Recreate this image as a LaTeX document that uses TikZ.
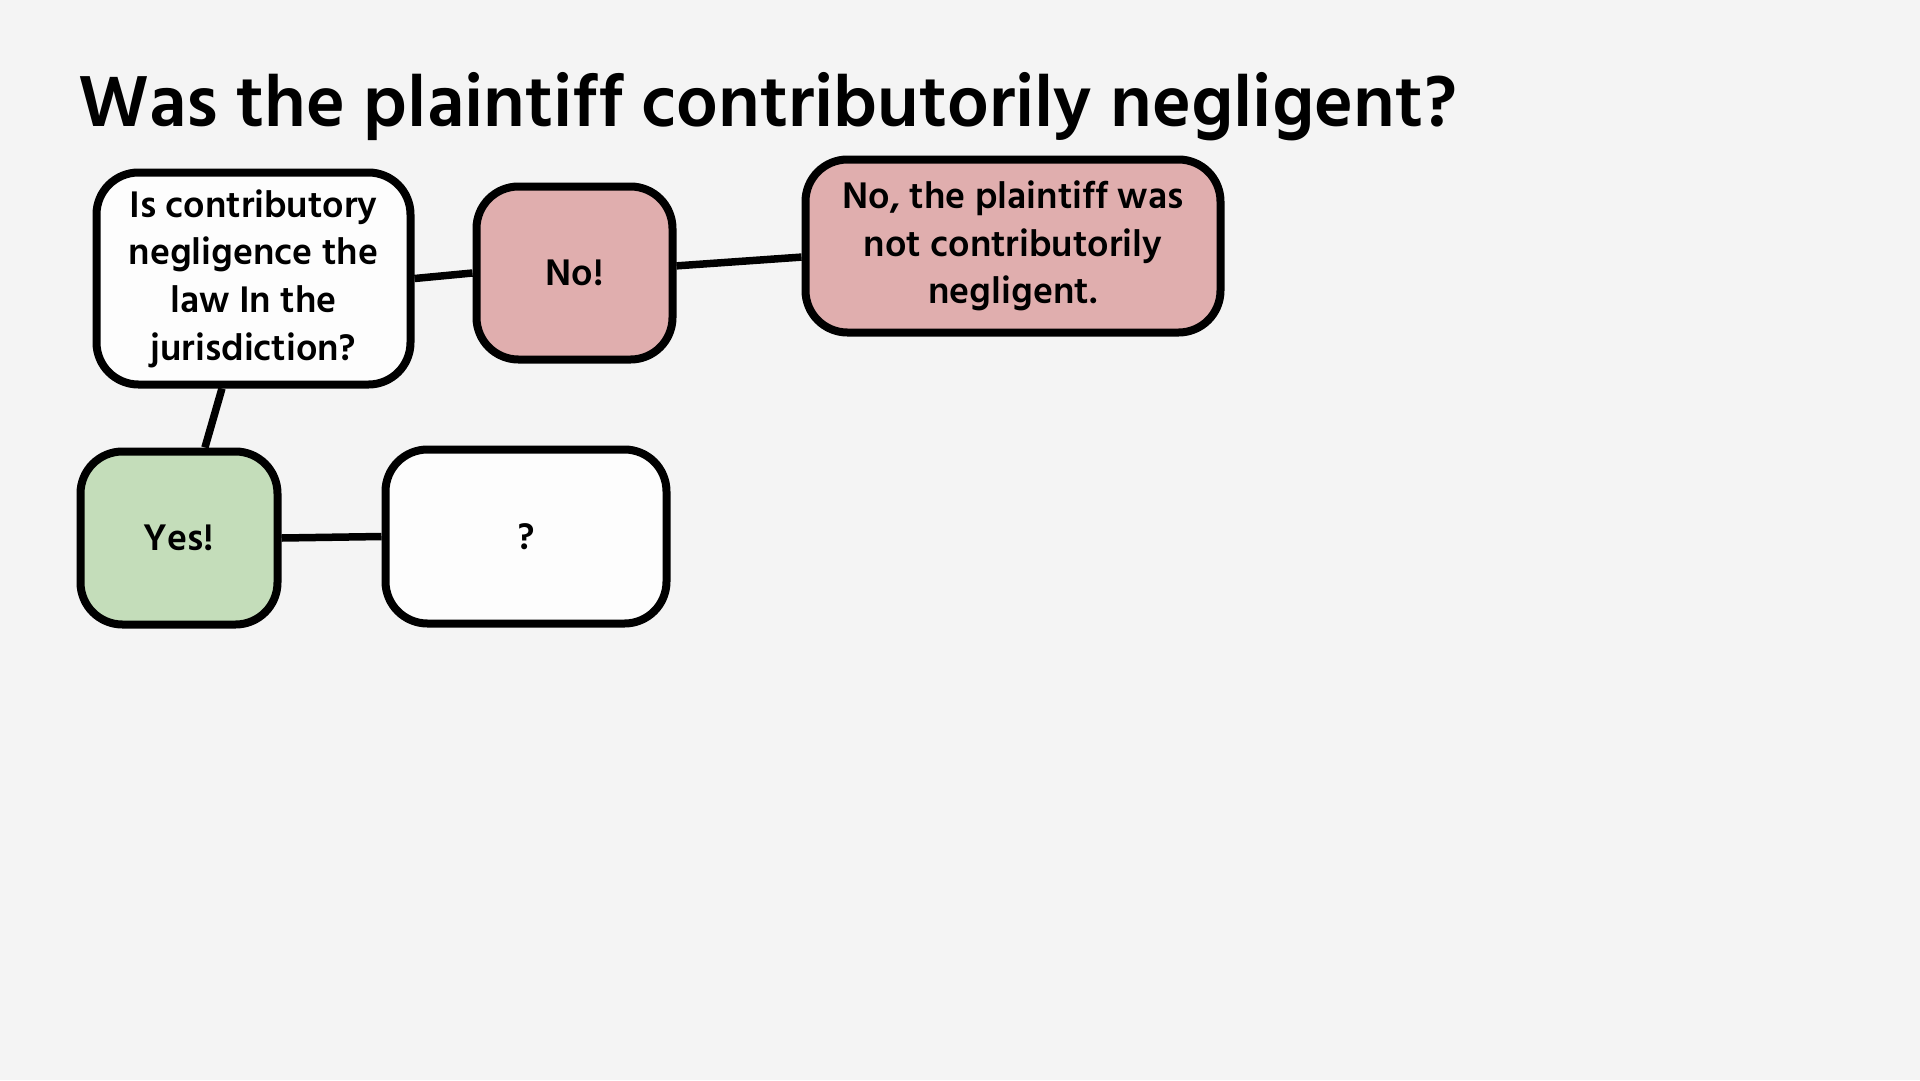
\documentclass[tikz,border=0pt]{standalone}
\usepackage{fontspec}
\setmainfont{Hind Madurai}
\definecolor{bgc}{HTML}{F4F4F4}
\definecolor{pinkc}{HTML}{E0AEAE}
\definecolor{greenc}{HTML}{C4DDBA}
\definecolor{whitec}{HTML}{FDFDFD}
\tikzset{
  box/.style={draw=black, line width=8pt, rounded corners=42pt, align=center,
    inner sep=0pt, fill=whitec, font=\fontsize{38}{47.7}\selectfont\bfseries},
  link/.style={line width=7.5pt, draw=black}
}
\begin{document}
\begin{tikzpicture}[x=1pt,y=-1pt]
\fill[bgc] (0,0) rectangle (1920,1080);
\useasboundingbox (0,0) rectangle (1920,1080);
\node[anchor=base west, inner sep=0pt, font=\fontsize{74}{80}\selectfont\bfseries] (title) at (78,126) {Was the plaintiff contributorily negligent?};
\node[box, minimum width=314pt, minimum height=212pt] (q) at (253.5,278.5) {Is contributory\\negligence the\\law In the\\jurisdiction?};
\node[box, fill=pinkc, minimum width=196pt, minimum height=173pt] (no) at (574.5,273) {No!};
\node[box, fill=pinkc, minimum width=415pt, minimum height=173pt] (res) at (1013,246) {No, the plaintiff was\\not contributorily\\negligent.};
\node[box, fill=greenc, minimum width=197pt, minimum height=173pt] (yes) at (179,538) {Yes!};
\node[box, minimum width=281pt, minimum height=174pt] (unk) at (526,536.5) {?};
\draw[link] (q.east) -- (no.west);
\draw[link] (no.4) -- (res.183);
\draw[link] (q.254) -- (yes.74);
\draw[link] (yes.east) -- (unk.west);
\end{tikzpicture}
\end{document}
